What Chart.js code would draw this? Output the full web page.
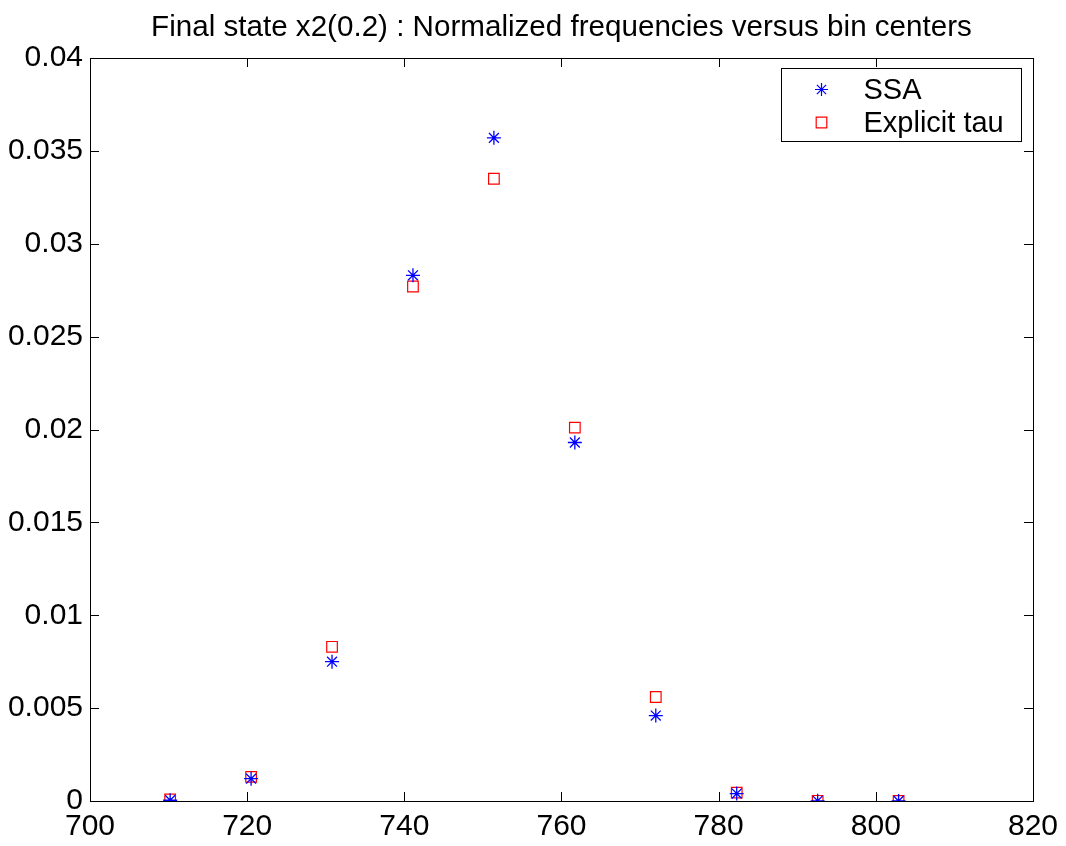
<!DOCTYPE html>
<html>
<head>
<meta charset="utf-8">
<script src="https://cdn.jsdelivr.net/npm/chart.js@4"></script>
<style>
  html, body { margin: 0; padding: 0; background: #fff; }
  #wrap { width: 1066px; height: 846px; }
</style>
</head>
<body>
<div id="wrap"><canvas id="chart" width="1066" height="846"></canvas></div>
<script>
// ── Data ──────────────────────────────────────────────────
const binCenters = [710.2, 720.5, 730.8, 741.1, 751.4, 761.7, 772.0, 782.3, 792.6, 802.9];
const ssaFreq    = [0.00004, 0.0012, 0.0075, 0.0283, 0.0357, 0.0193, 0.0046, 0.0004, 0.00001, 0];
const tauFreq    = [0.00008, 0.0013, 0.0083, 0.0277, 0.0335, 0.0201, 0.0056, 0.00045, 0.00001, 0];
const seriesNames = ["SSA", "Explicit tau"];
const xTicks = [700, 720, 740, 760, 780, 800, 820];
const yTicks = [0, 0.005, 0.01, 0.015, 0.02, 0.025, 0.03, 0.035, 0.04];
const titleText = "Final state x2(0.2) : Normalized frequencies versus bin centers";

const FONT = "'Liberation Sans', Arial, Helvetica, sans-serif";
const BLUE = "#0000ff";
const RED  = "#ff0000";

const toPoints = ys => binCenters.map((x, i) => ({ x, y: ys[i] }));

// ── Title, box, inward ticks and legend (MATLAB style) ────
const boxPlugin = {
  id: "box",
  afterDraw(chart) {
    const { ctx, chartArea: a, scales } = chart;
    const tl = 9;
    ctx.save();

    // title centred over the axes
    ctx.font = "29.6px " + FONT;
    ctx.fillStyle = "#000";
    ctx.textAlign = "center";
    ctx.textBaseline = "middle";
    ctx.fillText(titleText, (a.left + a.right) / 2, 28);

    ctx.strokeStyle = "#000";
    ctx.lineWidth = 1;
    ctx.beginPath();
    xTicks.forEach(v => {
      const px = Math.round(scales.x.getPixelForValue(v)) + 0.5;
      ctx.moveTo(px, a.bottom); ctx.lineTo(px, a.bottom - tl);
      ctx.moveTo(px, a.top);    ctx.lineTo(px, a.top + tl);
    });
    yTicks.forEach(v => {
      const py = Math.round(scales.y.getPixelForValue(v)) + 0.5;
      ctx.moveTo(a.left, py);  ctx.lineTo(a.left + tl, py);
      ctx.moveTo(a.right, py); ctx.lineTo(a.right - tl, py);
    });
    ctx.stroke();
    ctx.strokeRect(Math.round(a.left) + 0.5, Math.round(a.top) + 0.5,
                   Math.round(a.right - a.left), Math.round(a.bottom - a.top));

    // legend box
    const bx = Math.round(a.right) - 251.5, by = Math.round(a.top) + 10.5;
    const bw = 240, bh = 73;
    ctx.fillStyle = "#fff";
    ctx.fillRect(bx, by, bw, bh);
    ctx.strokeRect(bx, by, bw, bh);
    ctx.textBaseline = "middle";
    ctx.textAlign = "left";
    const rows = [by + 21, by + 54];
    const styles = [
      { pointStyle: "star", radius: 6.5, borderColor: BLUE },
      { pointStyle: "rect", radius: 7.5, borderColor: RED }
    ];
    seriesNames.forEach((name, i) => {
      ctx.strokeStyle = styles[i].borderColor;
      ctx.fillStyle = "rgba(0,0,0,0)";
      ctx.lineWidth = 1.2;
      Chart.helpers.drawPoint(ctx, { pointStyle: styles[i].pointStyle, radius: styles[i].radius, borderWidth: 1.2 },
                              bx + 40, rows[i]);
      ctx.fillStyle = "#000";
      ctx.font = "29px " + FONT;
      ctx.fillText(name, bx + 82, rows[i] + 1);
    });
    ctx.restore();
  }
};

new Chart(document.getElementById("chart").getContext("2d"), {
  type: "scatter",
  data: {
    datasets: [
      {
        label: seriesNames[0],
        data: toPoints(ssaFreq),
        pointStyle: "star",
        pointRadius: 7,
        borderColor: BLUE,
        backgroundColor: BLUE,
        borderWidth: 1.3,
      },
      {
        label: seriesNames[1],
        data: toPoints(tauFreq),
        pointStyle: "rect",
        pointRadius: 7.5,
        borderColor: RED,
        backgroundColor: "rgba(0,0,0,0)",
        borderWidth: 1.2,
      }
    ]
  },
  options: {
    responsive: false,
    animation: false,
    layout: { padding: { left: 0, right: 32, top: 58, bottom: 0 } },
    plugins: {
      legend: { display: false },
      tooltip: { enabled: false },
      title: { display: false }
    },
    scales: {
      x: {
        type: "linear",
        min: 700, max: 820,
        afterBuildTicks: s => { s.ticks = xTicks.map(v => ({ value: v })); },
        afterFit: s => { s.height = 45; },
        grid: { display: false, drawTicks: false },
        border: { display: false },
        ticks: {
          color: "#000",
          padding: 8,
          maxRotation: 0,
          font: { family: FONT, size: 30 },
          callback: v => String(v)
        }
      },
      y: {
        type: "linear",
        min: 0, max: 0.04,
        afterBuildTicks: s => { s.ticks = yTicks.map(v => ({ value: v })); },
        afterFit: s => { s.width = 90; },
        grid: { display: false, drawTicks: false },
        border: { display: false },
        ticks: {
          color: "#000",
          padding: 7,
          font: { family: FONT, size: 30 },
          callback: v => String(+Number(v).toFixed(4))
        }
      }
    }
  },
  plugins: [boxPlugin]
});
</script>
</body>
</html>
